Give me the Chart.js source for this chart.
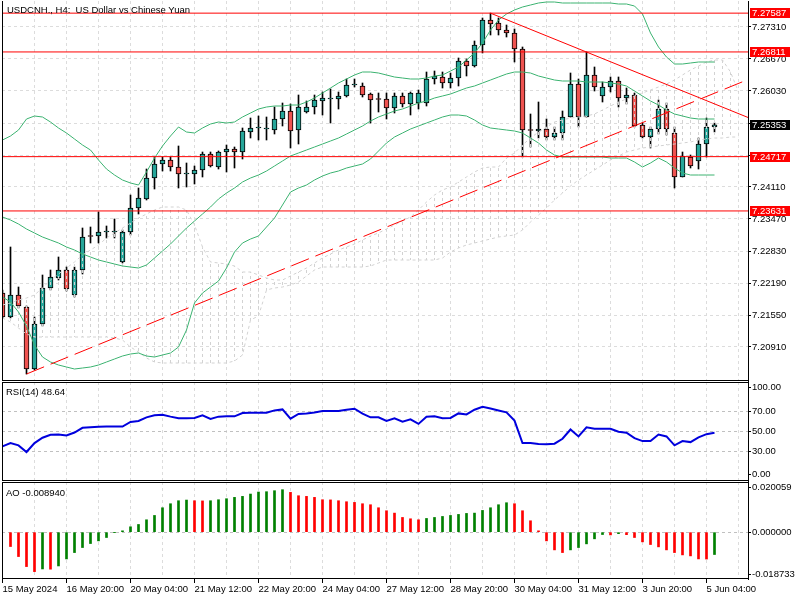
<!DOCTYPE html>
<html>
<head>
<meta charset="utf-8">
<script src="https://cdn.jsdelivr.net/npm/chart.js@4/dist/chart.umd.min.js"></script>
<style>
  body { margin: 0; background: #fff; width: 800px; height: 600px; overflow: hidden; position: relative; font-family: "Liberation Sans", sans-serif; }
  canvas { position: absolute; left: 0; }
  .lbl { position: absolute; font-size: 9.5px; line-height: 11px; white-space: pre; color: #000; }
</style>
</head>
<body>
<canvas id="main" width="800" height="382" style="top:0"></canvas>
<canvas id="rsi" width="800" height="101" style="top:381px"></canvas>
<canvas id="ao" width="800" height="119" style="top:481px"></canvas>
<div class="lbl" style="left:7px;top:4px">USDCNH., H4:  US Dollar vs Chinese Yuan</div>
<div class="lbl" id="rsiTitle" style="left:6px;top:386px"></div>
<div class="lbl" id="aoTitle" style="left:6px;top:487px"></div>
<script>
// H4 bars, 15 May 12:00 .. 5 Jun 08:00
const dateLabels = ['15 May 2024', '16 May 20:00', '20 May 04:00', '21 May 12:00', '22 May 20:00', '24 May 04:00',
  '27 May 12:00', '28 May 20:00', '30 May 04:00', '31 May 12:00', '3 Jun 20:00', '5 Jun 04:00'];

const open = [
  7.2199, 7.2151, 7.2195, 7.2171, 7.2047, 7.2137, 7.2209, 7.2229, 7.2245, 7.2195,
  7.2245, 7.2313, 7.2313, 7.2321, 7.2321, 7.2261, 7.2321, 7.2369, 7.2387, 7.2429,
  7.2457, 7.2465, 7.2451, 7.2437, 7.2437, 7.2445, 7.2477, 7.2451, 7.2481, 7.2487,
  7.2481, 7.2521, 7.2529, 7.2527, 7.2525, 7.2547, 7.2563, 7.2525, 7.2561, 7.2571,
  7.2583, 7.2587, 7.2587, 7.2593, 7.2615, 7.2613, 7.2597, 7.2587, 7.2587, 7.2569,
  7.2593, 7.2577, 7.2579, 7.2579, 7.2627, 7.2631, 7.2619, 7.2629, 7.2663, 7.2653,
  7.2695, 7.2745, 7.2739, 7.2725, 7.2719, 7.2687, 7.2525, 7.2523, 7.2527, 7.2511,
  7.2519, 7.2551, 7.2617, 7.2551, 7.2635, 7.2593, 7.2611, 7.2623, 7.2589, 7.2595,
  7.2535, 7.2511, 7.2527, 7.2567, 7.2519, 7.2431, 7.2471, 7.2463, 7.2497, 7.2531];
const high = [
  7.2205, 7.2291, 7.2211, 7.2173, 7.2151, 7.2235, 7.2245, 7.2271, 7.2251, 7.2251,
  7.2329, 7.2331, 7.2361, 7.2333, 7.2347, 7.2325, 7.2395, 7.2409, 7.2447, 7.2471,
  7.2471, 7.2471, 7.2493, 7.2459, 7.2453, 7.2481, 7.2481, 7.2483, 7.2495, 7.2491,
  7.2529, 7.2549, 7.2553, 7.2551, 7.2571, 7.2579, 7.2577, 7.2595, 7.2583, 7.2595,
  7.2601, 7.2607, 7.2601, 7.2627, 7.2627, 7.2619, 7.2599, 7.2599, 7.2599, 7.2599,
  7.2599, 7.2601, 7.2605, 7.2641, 7.2643, 7.2641, 7.2639, 7.2669, 7.2667, 7.2703,
  7.2749, 7.27587, 7.2749, 7.2735, 7.2727, 7.2691, 7.2557, 7.2581, 7.2547, 7.2531,
  7.2563, 7.2639, 7.2627, 7.26811, 7.2651, 7.2621, 7.2631, 7.2631, 7.2609, 7.2599,
  7.2539, 7.2531, 7.2585, 7.2579, 7.2531, 7.2481, 7.2475, 7.2509, 7.2549, 7.2539];
const low = [
  7.2149, 7.2149, 7.2169, 7.2037, 7.2045, 7.2133, 7.2205, 7.2225, 7.2203, 7.2191,
  7.2237, 7.2299, 7.2299, 7.2309, 7.2309, 7.2259, 7.2315, 7.2357, 7.2385, 7.2407,
  7.2443, 7.2443, 7.2409, 7.2411, 7.2417, 7.2431, 7.2451, 7.2447, 7.2441, 7.2449,
  7.2467, 7.2509, 7.2505, 7.2505, 7.2517, 7.2533, 7.2489, 7.2497, 7.2559, 7.2557,
  7.2555, 7.2539, 7.2567, 7.2591, 7.2611, 7.2591, 7.2539, 7.2561, 7.2547, 7.2559,
  7.2571, 7.2555, 7.2567, 7.2573, 7.2617, 7.2609, 7.2609, 7.2613, 7.2633, 7.2651,
  7.2679, 7.2715, 7.2715, 7.2711, 7.2661, 7.2471, 7.2491, 7.2509, 7.2505, 7.2505,
  7.2505, 7.2551, 7.2531, 7.2551, 7.2603, 7.2581, 7.2601, 7.2571, 7.2577, 7.2531,
  7.2509, 7.2489, 7.2517, 7.2515, 7.2409, 7.2431, 7.2449, 7.2447, 7.2471, 7.2521];
const close = [
  7.2151, 7.2195, 7.2173, 7.2047, 7.2137, 7.2209, 7.2231, 7.2245, 7.2207, 7.2245,
  7.2311, 7.2312, 7.2321, 7.2322, 7.2322, 7.2321, 7.2369, 7.2389, 7.2429, 7.2457,
  7.2465, 7.2451, 7.2437, 7.2438, 7.2445, 7.2477, 7.2453, 7.2481, 7.2487, 7.2481,
  7.2523, 7.2529, 7.2530, 7.2528, 7.2547, 7.2563, 7.2523, 7.2571, 7.2571, 7.2585,
  7.2589, 7.2588, 7.2593, 7.2615, 7.2616, 7.2595, 7.2585, 7.2586, 7.2569, 7.2593,
  7.2577, 7.2599, 7.2599, 7.2627, 7.2633, 7.2619, 7.2629, 7.2663, 7.2653, 7.2695,
  7.2745, 7.2737, 7.2725, 7.2719, 7.2687, 7.2525, 7.2524, 7.2527, 7.2511, 7.2519,
  7.2551, 7.2617, 7.2551, 7.2635, 7.2611, 7.2611, 7.2623, 7.2589, 7.2595, 7.2533,
  7.2511, 7.2527, 7.2567, 7.2527, 7.2431, 7.2473, 7.2453, 7.2497, 7.2531, 7.25353];

// Bollinger bands (20)
const bbUpper = [
  7.2505, 7.2513, 7.2525, 7.2547, 7.2553, 7.2551, 7.2541, 7.2529, 7.2519, 7.2507,
  7.2495, 7.2485, 7.2465, 7.2447, 7.2435, 7.2425, 7.2419, 7.2415, 7.2441, 7.2469,
  7.2493, 7.2513, 7.2531, 7.2521, 7.2519, 7.2529, 7.2537, 7.2541, 7.2539, 7.2541,
  7.2551, 7.2559, 7.2567, 7.2571, 7.2573, 7.2573, 7.2575, 7.2575, 7.2581, 7.2589,
  7.2599, 7.2609, 7.2619, 7.2627, 7.2635, 7.2641, 7.2641, 7.2639, 7.2635, 7.2631,
  7.2629, 7.2627, 7.2627, 7.2629, 7.2633, 7.2635, 7.2643, 7.2651, 7.2665, 7.2679,
  7.2699, 7.2725, 7.2745, 7.2757, 7.2765, 7.2771, 7.2775, 7.2779, 7.2781, 7.2781,
  7.2779, 7.2779, 7.2779, 7.2779, 7.2779, 7.2779, 7.2779, 7.2777, 7.2777, 7.2773,
  7.2757, 7.2719, 7.2691, 7.2671, 7.2657, 7.2657, 7.2659, 7.2661, 7.2661, 7.2661];
const bbMiddle = [
  7.2351, 7.2345, 7.2337, 7.2327, 7.2319, 7.2311, 7.2305, 7.2299, 7.2291, 7.2285,
  7.2277, 7.2271, 7.2265, 7.2261, 7.2257, 7.2253, 7.2251, 7.2249, 7.2255, 7.2269,
  7.2283, 7.2297, 7.2313, 7.2329, 7.2343, 7.2357, 7.2371, 7.2387, 7.2399, 7.2409,
  7.2421, 7.2429, 7.2435, 7.2443, 7.2453, 7.2463, 7.2473, 7.2479, 7.2485, 7.2491,
  7.2497, 7.2503, 7.2509, 7.2517, 7.2525, 7.2533, 7.2543, 7.2551, 7.2557, 7.2563,
  7.2567, 7.2573, 7.2579, 7.2583, 7.2589, 7.2593, 7.2597, 7.2603, 7.2609, 7.2613,
  7.2619, 7.2625, 7.2631, 7.2637, 7.2641, 7.2641, 7.2639, 7.2633, 7.2629, 7.2625,
  7.2623, 7.2623, 7.2623, 7.2621, 7.2621, 7.2621, 7.2619, 7.2617, 7.2613, 7.2603,
  7.2593, 7.2583, 7.2575, 7.2565, 7.2557, 7.2553, 7.2549, 7.2547, 7.2547, 7.2547];
const bbLower = [
  7.2191, 7.2181, 7.2161, 7.2133, 7.2095, 7.2071, 7.2061, 7.2055, 7.2051, 7.2047,
  7.2049, 7.2051, 7.2055, 7.2061, 7.2067, 7.2073, 7.2077, 7.2079, 7.2073, 7.2071,
  7.2075, 7.2079, 7.2091, 7.2125, 7.2179, 7.2199, 7.2211, 7.2223, 7.2249, 7.2281,
  7.2299, 7.2307, 7.2313, 7.2331, 7.2349, 7.2375, 7.2401, 7.2409, 7.2415, 7.2425,
  7.2433, 7.2439, 7.2443, 7.2449, 7.2453, 7.2457, 7.2467, 7.2483, 7.2499, 7.2511,
  7.2519, 7.2527, 7.2533, 7.2539, 7.2545, 7.2551, 7.2555, 7.2555, 7.2553, 7.2545,
  7.2535, 7.2529, 7.2527, 7.2525, 7.2523, 7.2519, 7.2509, 7.2499, 7.2485, 7.2475,
  7.2471, 7.2471, 7.2471, 7.2471, 7.2471, 7.2471, 7.2469, 7.2469, 7.2469, 7.2461,
  7.2451, 7.2459, 7.2469, 7.2461, 7.2449, 7.2439, 7.2435, 7.2435, 7.2435, 7.2435];

// Ichimoku cloud edges (run 3 bars past the last candle)
const kumoA = [
  7.2175, 7.2179, 7.2185, 7.2189, 7.2195, 7.2209, 7.2225, 7.2237, 7.2249, 7.2261,
  7.2275, 7.2285, 7.2295, 7.2309, 7.2319, 7.2329, 7.2339, 7.2349, 7.2357, 7.2365,
  7.2371, 7.2371, 7.2371, 7.2365, 7.2335, 7.2291, 7.2261, 7.2259, 7.2257, 7.2253,
  7.2241, 7.2241, 7.2235, 7.2229, 7.2225, 7.2225, 7.2233, 7.2241, 7.2249, 7.2259,
  7.2269, 7.2277, 7.2285, 7.2291, 7.2297, 7.2305, 7.2313, 7.2319, 7.2327, 7.2335,
  7.2343, 7.2351, 7.2365, 7.2381, 7.2395, 7.2405, 7.2411, 7.2421, 7.2431, 7.2441,
  7.2449, 7.2451, 7.2451, 7.2469, 7.2479, 7.2495, 7.2509, 7.2521, 7.2531, 7.2541,
  7.2545, 7.2549, 7.2551, 7.2553, 7.2557, 7.2565, 7.2573, 7.2581, 7.2587, 7.2593,
  7.2599, 7.2605, 7.2611, 7.2617, 7.2625, 7.2635, 7.2645, 7.2653, 7.2661, 7.2665,
  7.2665, 7.2641, 7.2601];
const kumoB = [
  7.2149, 7.2141, 7.2129, 7.2117, 7.2111, 7.2111, 7.2111, 7.2111, 7.2111, 7.2111,
  7.2111, 7.2111, 7.2111, 7.2111, 7.2109, 7.2105, 7.2091, 7.2081, 7.2069, 7.2061,
  7.2059, 7.2059, 7.2059, 7.2059, 7.2059, 7.2059, 7.2059, 7.2059, 7.2059, 7.2063,
  7.2075, 7.2145, 7.2153, 7.2205, 7.2209, 7.2211, 7.2215, 7.2221, 7.2233, 7.2245,
  7.2251, 7.2251, 7.2251, 7.2251, 7.2251, 7.2251, 7.2253, 7.2259, 7.2265, 7.2265,
  7.2265, 7.2265, 7.2265, 7.2265, 7.2265, 7.2269, 7.2281, 7.2289, 7.2295, 7.2299,
  7.2303, 7.2307, 7.2311, 7.2313, 7.2315, 7.2325, 7.2341, 7.2355, 7.2369, 7.2385,
  7.2399, 7.2413, 7.2425, 7.2435, 7.2445, 7.2455, 7.2465, 7.2473, 7.2481, 7.2485,
  7.2489, 7.2491, 7.2493, 7.2495, 7.2497, 7.2499, 7.2501, 7.2505, 7.2507, 7.2509,
  7.2509, 7.2511, 7.2511];

const rsi = [
  35, 38.3, 36, 29.3, 38.3, 43.7, 46.7, 47, 46, 49,
  53.7, 54.3, 54.7, 55, 55, 55, 59.7, 60.7, 64.3, 66.3,
  67, 65, 63.3, 63.3, 63.7, 66.3, 62.7, 65, 65.3, 65.3,
  68.7, 69, 69, 69, 71.3, 72.3, 63, 67.7, 68.3, 69.3,
  70.7, 70.7, 70.7, 72, 73, 68, 64.3, 64.3, 60.7, 63.3,
  60, 62.3, 57.7, 65, 65.3, 63.3, 63.7, 68.3, 67.3, 72,
  75, 73.3, 71.3, 69.3, 61, 38.3, 38.3, 37.3, 37, 37.7,
  42.7, 52, 45, 54.3, 52.7, 52.7, 52.7, 49.7, 48.7, 43.3,
  40.3, 40.3, 47, 45, 36, 40.3, 39.3, 44, 47.3, 48.64];

const ao = [
  null, -0.00575, -0.00976, -0.01377, -0.01578, -0.01471, -0.01480, -0.01351, -0.01070, -0.00816,
  -0.00615, -0.00455, -0.00348, -0.00214, -0.00010, 0.00053, 0.00214, 0.00307, 0.00495, 0.00668,
  0.00976, 0.01137, 0.01257, 0.01284, 0.01257, 0.01250, 0.01257, 0.01297, 0.01337, 0.01391,
  0.01431, 0.01524, 0.01605, 0.01618, 0.01658, 0.01698, 0.01591, 0.01457, 0.01431, 0.01391,
  0.01297, 0.01290, 0.01257, 0.01217, 0.01190, 0.01137, 0.01097, 0.00976, 0.00856, 0.00762,
  0.00588, 0.00535, 0.00495, 0.00548, 0.00588, 0.00628, 0.00668, 0.00709, 0.00749, 0.00762,
  0.00869, 0.00976, 0.01097, 0.01177, 0.01137, 0.00856, 0.00455, 0.00053, -0.00348, -0.00709,
  -0.00816, -0.00709, -0.00615, -0.00468, -0.00267, -0.00095, -0.00110, -0.00060, -0.00100, -0.00214,
  -0.00388, -0.00495, -0.00588, -0.00709, -0.00816, -0.00909, -0.00949, -0.01070, -0.01075, -0.00894];

// horizontal levels and trend lines drawn on the chart
const levels = [7.27587, 7.26811, 7.24717, 7.23631];
const trendUpX = [3, 93.2], trendUpY = [7.2037, 7.2626];
const trendDownX = [61, 93.2], trendDownY = [7.27587, 7.2550];

// axis ticks
const priceRange = [7.2023, 7.2783];
const priceTicks = [7.2091, 7.2155, 7.2219, 7.2283, 7.2347, 7.2411, 7.2475, 7.2539, 7.2603, 7.2667, 7.2731];
const rsiTickPos = [6.8, 30, 50, 70, 94.3];
const rsiTickLabels = ['0.00', '30.00', '50.00', '70.00', '100.00'];
const aoRange = [-0.018733, 0.020059];
const aoTickPos = [-0.0168, 0, 0.0179];
const aoTickLabels = ['-0.018733', '0.000000', '0.020059'];

const UP = '#26a69a', DOWN = '#ef5350', BB = '#3cb371';
const X_MIN = -0.0625, X_MAX = 93.1875;
const gridBars = Array.from({length: 24}, (_, k) => 4 * k);
const font = {family: 'Liberation Sans', size: 9.5};
const clear = 'rgba(0,0,0,0)';

Chart.defaults.font.family = 'Liberation Sans';
Chart.defaults.animation = false;
Chart.defaults.events = [];

document.getElementById('rsiTitle').textContent = 'RSI(14) ' + rsi[rsi.length - 1].toFixed(2);
document.getElementById('aoTitle').textContent = 'AO ' + ao[ao.length - 1].toFixed(6);

const pts = arr => arr.map((v, i) => ({x: i, y: v}));

// labels may hang past the plot edges like in the terminal, so no extra padding
const noPad = s => { s.paddingTop = 0; s.paddingBottom = 0; s.paddingLeft = 0; s.paddingRight = 0; };

function xAxis(labels) {
  return {
    type: 'linear', min: X_MIN, max: X_MAX, offset: false,
    afterBuildTicks: s => { s.ticks = gridBars.map(v => ({value: v})); },
    grid: {
      offset: false, color: '#dcdcdc', drawTicks: labels, tickLength: 4,
      tickColor: c => (c.tick && c.tick.value % 8 === 0) ? '#000' : clear
    },
    border: {display: false, dash: [3, 3]},
    ticks: labels
      ? {autoSkip: false, maxRotation: 0, align: 'start', padding: 1, color: '#000', font,
         callback: v => v % 8 === 0 ? dateLabels[v / 8] : ''}
      : {display: false},
    afterFit: s => { s.height = labels ? 21 : 0; noPad(s); }
  };
}

function yAxis(range, pos, fmt, gridColor) {
  return {
    type: 'linear', position: 'right', min: range[0], max: range[1], beginAtZero: false,
    afterBuildTicks: s => { s.ticks = pos.map(v => ({value: v})); },
    ticks: {color: '#000', font, padding: 1, callback: fmt},
    grid: {color: gridColor, tickColor: '#000', tickLength: 3},
    border: {color: '#000', dash: [3, 3]},
    afterFit: s => { s.width = 52; noPad(s); }
  };
}

const frame = {
  id: 'frame',
  afterDraw(chart, args, opts) {
    const {ctx, chartArea: a} = chart;
    ctx.save();
    ctx.strokeStyle = '#000';
    ctx.lineWidth = 1;
    ctx.beginPath();
    if (opts.top) { ctx.moveTo(a.left, a.top + 0.5); ctx.lineTo(a.right, a.top + 0.5); }
    ctx.moveTo(a.left + 0.5, a.top);
    ctx.lineTo(a.left + 0.5, a.bottom);
    ctx.moveTo(a.left, a.bottom - 0.5);
    ctx.lineTo(a.right, a.bottom - 0.5);
    ctx.stroke();
    ctx.restore();
  }
};

// price tags on the right axis
const levelTags = {
  id: 'levelTags',
  afterDraw(chart) {
    const {ctx, chartArea, scales: {y}} = chart;
    ctx.save();
    ctx.font = '9.5px "Liberation Sans"';
    ctx.textBaseline = 'middle';
    const tag = (v, bg) => {
      const py = Math.round(y.getPixelForValue(v));
      ctx.fillStyle = bg;
      ctx.fillRect(chartArea.right + 2, py - 5, 40, 10);
      ctx.fillStyle = '#fff';
      ctx.fillText(v.toFixed(5), chartArea.right + 4, py + 0.5);
    };
    levels.forEach(v => tag(v, '#ff0000'));
    tag(close[close.length - 1], '#000');
    ctx.restore();
  }
};

// dashed vertical hatching for the cloud, one stroke per bar
const tile = document.createElement('canvas');
tile.width = 8; tile.height = 6;
const tctx = tile.getContext('2d');
tctx.fillStyle = '#d2d2d2';
tctx.fillRect(2, 0, 1, 3);
const hatch = tctx.createPattern(tile, 'repeat');

const line = (data, color, order, extra) => Object.assign({
  type: 'line', data, borderColor: color, borderWidth: 1, pointRadius: 0, fill: false, order
}, extra || {});

new Chart(document.getElementById('main'), {
  type: 'bar',
  data: {
    datasets: [
      line(pts(kumoA), '#d2d2d2', 4, {borderDash: [3, 3], fill: '+1', backgroundColor: hatch}),
      line(pts(kumoB), '#d2d2d2', 4, {borderDash: [3, 3]}),
      line(pts(bbUpper), BB, 3),
      line(pts(bbMiddle), BB, 3),
      line(pts(bbLower), BB, 3),
      {
        type: 'bar', order: 6, grouped: false, barThickness: 1,
        data: low.map((l, i) => ({x: i, y: [l, high[i]]})),
        backgroundColor: '#000'
      },
      {
        type: 'bar', order: 5, grouped: false, barThickness: 5, minBarLength: 1,
        data: open.map((o, i) => ({x: i, y: [o, close[i]]})),
        backgroundColor: c => close[c.dataIndex] >= open[c.dataIndex] ? UP : DOWN,
        borderColor: '#000', borderWidth: 1, borderSkipped: false
      },
      ...levels.map(v => line([{x: -1, y: v}, {x: 95, y: v}], '#ff0000', 1, {clip: 0})),
      line(trendUpX.map((x, i) => ({x, y: trendUpY[i]})), '#ff0000', 1, {borderDash: [19, 7], clip: 0}),
      line(trendDownX.map((x, i) => ({x, y: trendDownY[i]})), '#ff0000', 1, {clip: 0})
    ]
  },
  options: {
    responsive: false,
    layout: {padding: {left: 2, top: 1, bottom: 1, right: 0}},
    plugins: {legend: {display: false}, tooltip: {enabled: false}, frame: {top: false}},
    scales: {
      x: xAxis(false),
      y: yAxis(priceRange, priceTicks, v => v.toFixed(5), '#dcdcdc')
    }
  },
  plugins: [frame, levelTags]
});

new Chart(document.getElementById('rsi'), {
  type: 'line',
  data: {
    datasets: [line(pts(rsi), '#0000dd', 1, {borderWidth: 2})]
  },
  options: {
    responsive: false,
    layout: {padding: {left: 2, top: 1, bottom: 1, right: 0}},
    plugins: {legend: {display: false}, tooltip: {enabled: false}, frame: {top: true}},
    scales: {
      x: xAxis(false),
      y: yAxis([0, 100], rsiTickPos, (v, i) => rsiTickLabels[i],
        c => (c.tick && [30, 50, 70].includes(c.tick.value)) ? '#c0c0c0' : clear)
    }
  },
  plugins: [frame]
});

new Chart(document.getElementById('ao'), {
  type: 'bar',
  data: {
    datasets: [{
      data: pts(ao), grouped: false, barThickness: 2,
      backgroundColor: c => {
        const i = c.dataIndex, prev = ao[i - 1];
        return (prev != null && ao[i] > prev) ? '#008000' : '#ff0000';
      }
    }]
  },
  options: {
    responsive: false,
    layout: {padding: {left: 2, top: 1, bottom: 0, right: 0}},
    plugins: {legend: {display: false}, tooltip: {enabled: false}, frame: {top: true}},
    scales: {
      x: xAxis(true),
      y: yAxis(aoRange, aoTickPos, (v, i) => aoTickLabels[i],
        c => (c.tick && c.tick.value === 0) ? '#c0c0c0' : clear)
    }
  },
  plugins: [frame]
});
</script>
</body>
</html>
